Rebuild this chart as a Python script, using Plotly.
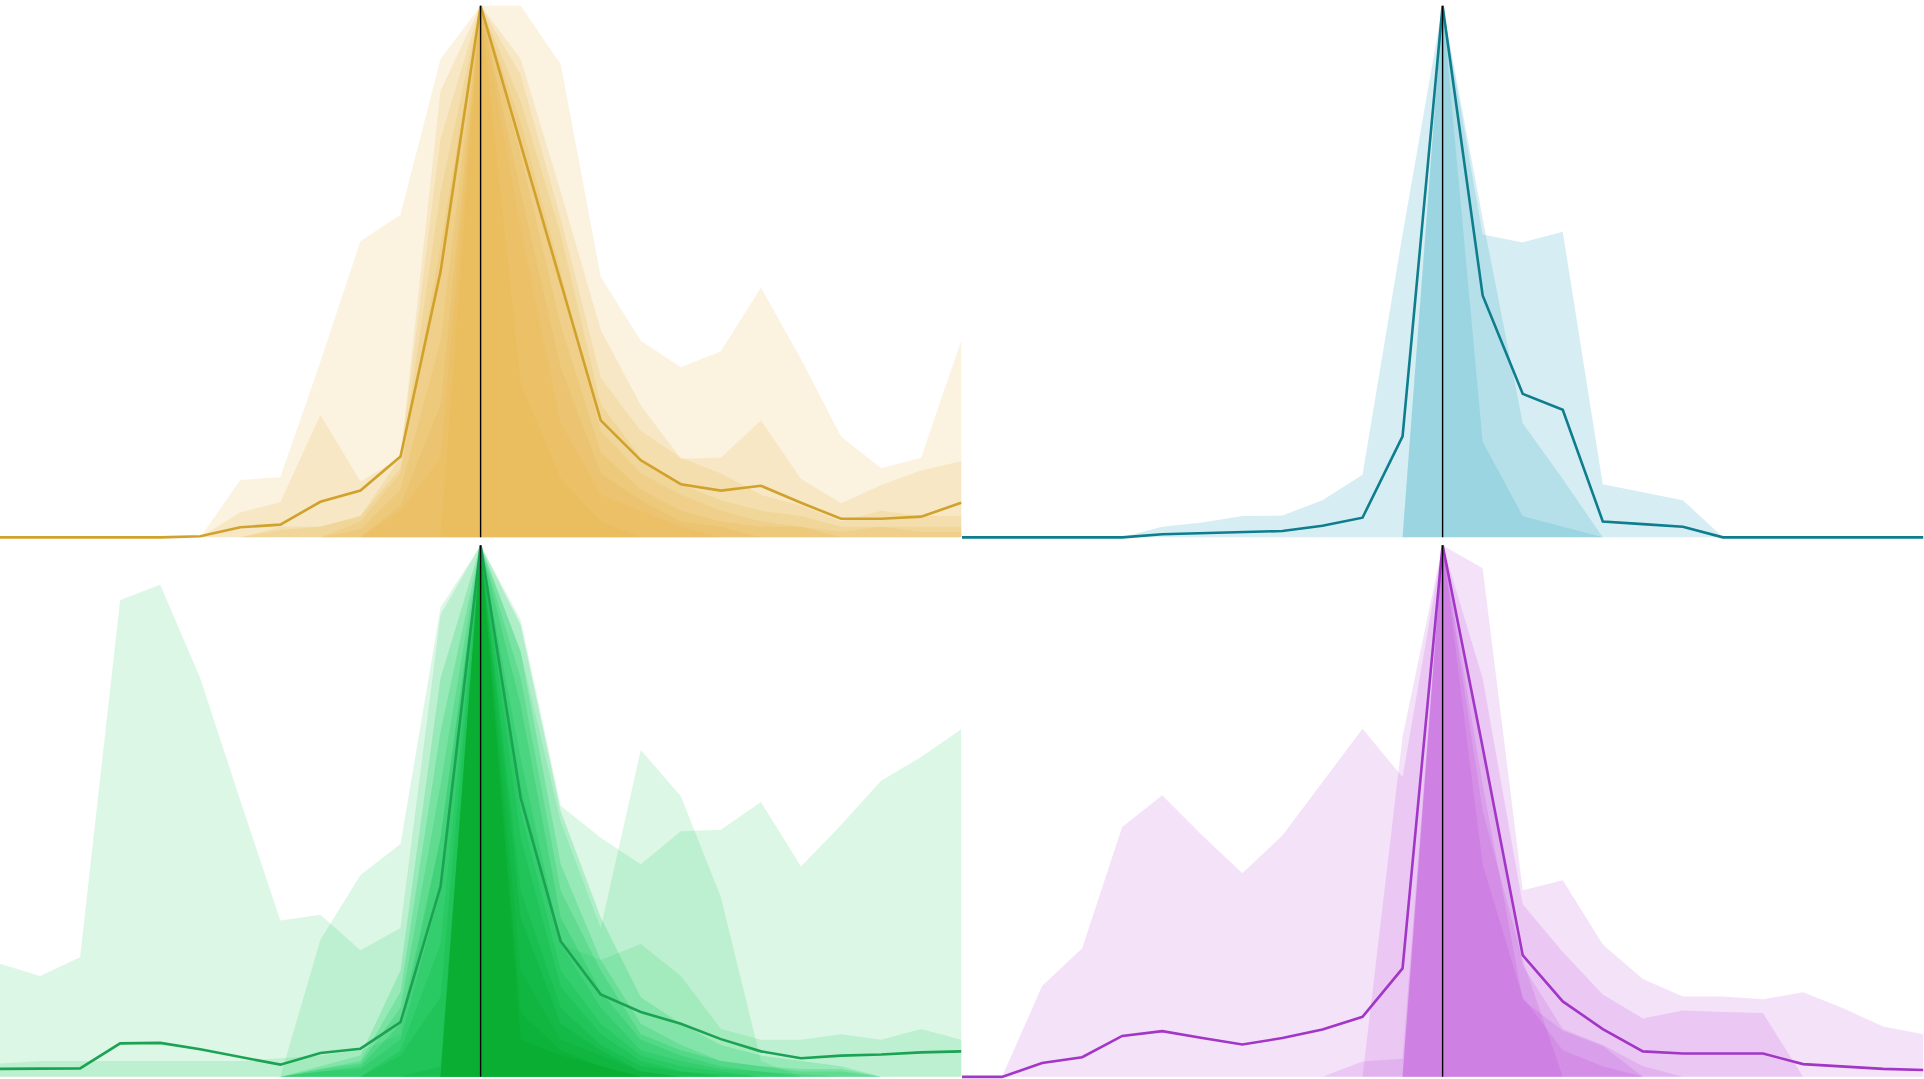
import plotly.graph_objects as go
from plotly.subplots import make_subplots

# ---------------- data ----------------
positions = list(range(25))   # 25 sample positions, peak at index 12
peak_index = 12

# Gold panel (top-left)
gold_profiles = [
    [0, 0, 0, 0, 0, 0, 0.108, 0.113, 0.33, 0.557, 0.607, 0.90, 1.0, 1.0, 0.89, 0.49, 0.37, 0.32, 0.35, 0.47, 0.335, 0.19, 0.13, 0.15, 0.37],
    [0, 0, 0, 0, 0, 0, 0.047, 0.066, 0.23, 0.105, 0.15, 0.84, 1.0, 0.90, 0.65, 0.39, 0.248, 0.148, 0.15, 0.22, 0.11, 0.064, 0.098, 0.126, 0.143],
    [0, 0, 0, 0, 0, 0, 0, 0.02, 0.02, 0.04, 0.15, 0.75, 1.0, 0.87, 0.60, 0.30, 0.20, 0.15, 0.12, 0.08, 0.06, 0.03, 0.05, 0.04, 0.04],
    [0, 0, 0, 0, 0, 0, 0, 0.014, 0.02, 0.04, 0.13, 0.65, 1.0, 0.82, 0.57, 0.25, 0.15, 0.10, 0.07, 0.05, 0.04, 0.02, 0.02, 0.02, 0.02],
    [0, 0, 0, 0, 0, 0, 0, 0, 0, 0.03, 0.12, 0.55, 1.0, 0.78, 0.50, 0.20, 0.12, 0.08, 0.05, 0.03, 0.02, 0.01, 0.02, 0.01, 0.01],
    [0, 0, 0, 0, 0, 0, 0, 0, 0, 0.015, 0.09, 0.37, 1.0, 0.72, 0.40, 0.16, 0.09, 0.05, 0.03, 0.02, 0.02, 0, 0, 0, 0],
    [0, 0, 0, 0, 0, 0, 0, 0, 0, 0, 0.06, 0.25, 1.0, 0.65, 0.32, 0.12, 0.07, 0.03, 0.02, 0, 0, 0, 0, 0, 0],
    [0, 0, 0, 0, 0, 0, 0, 0, 0, 0, 0.05, 0.15, 1.0, 0.58, 0.215, 0.08, 0.05, 0.02, 0, 0, 0, 0, 0, 0, 0],
    [0, 0, 0, 0, 0, 0, 0, 0, 0, 0, 0, 0, 1.0, 0.29, 0.11, 0.03, 0, 0, 0, 0, 0, 0, 0, 0, 0],
]
gold_mean = [0, 0, 0, 0, 0, 0.002, 0.019, 0.024, 0.067, 0.088, 0.152, 0.50, 1.0, 0.74, 0.48, 0.22, 0.145, 0.10, 0.088, 0.097, 0.065, 0.035, 0.035, 0.039, 0.065]

# Teal panel (top-right)
teal_profiles = [
    [0, 0, 0, 0, 0, 0.02, 0.028, 0.04, 0.041, 0.07, 0.118, 0.57, 1.0, 0.57, 0.555, 0.575, 0.10, 0.085, 0.07, 0, 0, 0, 0, 0, 0],
    [0, 0, 0, 0, 0, 0, 0, 0, 0, 0, 0, 0, 1.0, 0.60, 0.215, 0.11, 0, 0, 0, 0, 0, 0, 0, 0, 0],
    [0, 0, 0, 0, 0, 0, 0, 0, 0, 0, 0, 0, 1.0, 0.18, 0.04, 0.02, 0, 0, 0, 0, 0, 0, 0, 0, 0],
]
teal_mean = [0, 0, 0, 0, 0, 0.006, 0.008, 0.011, 0.012, 0.022, 0.037, 0.19, 1.0, 0.455, 0.27, 0.24, 0.03, 0.025, 0.02, 0, 0, 0, 0, 0, 0]

# Green panel (bottom-left)
green_wide_profiles = [
    [0.213, 0.19, 0.225, 0.897, 0.926, 0.75, 0.52, 0.294, 0.305, 0.238, 0.28, 0.87, 1.0, 0.86, 0.51, 0.45, 0.40, 0.462, 0.465, 0.517, 0.396, 0.474, 0.557, 0.602, 0.654],
    [0, 0, 0, 0, 0, 0, 0, 0, 0.258, 0.38, 0.438, 0.883, 1.0, 0.80, 0.48, 0.28, 0.615, 0.528, 0.338, 0.03, 0, 0, 0, 0, 0],
    [0.025, 0.03, 0.03, 0.03, 0.03, 0.03, 0.03, 0.035, 0.04, 0.05, 0.08, 0.45, 1.0, 0.55, 0.25, 0.22, 0.25, 0.19, 0.09, 0.07, 0.07, 0.08, 0.07, 0.09, 0.07],
]
green_narrow_profiles = [
    [0, 0, 0, 0, 0, 0, 0, 0, 0.02, 0.04, 0.20, 0.75, 1.0, 0.85, 0.50, 0.30, 0.15, 0.10, 0.06, 0.04, 0.03, 0.02, 0, 0, 0],
    [0, 0, 0, 0, 0, 0, 0, 0, 0.015, 0.03, 0.16, 0.65, 1.0, 0.80, 0.40, 0.22, 0.10, 0.06, 0.03, 0.02, 0.015, 0.015, 0, 0, 0],
    [0, 0, 0, 0, 0, 0, 0, 0, 0.015, 0.025, 0.13, 0.55, 1.0, 0.75, 0.35, 0.20, 0.08, 0.05, 0.03, 0.02, 0.01, 0.01, 0, 0, 0],
    [0, 0, 0, 0, 0, 0, 0, 0, 0.01, 0.02, 0.10, 0.45, 1.0, 0.70, 0.30, 0.16, 0.07, 0.04, 0.02, 0.01, 0.005, 0, 0, 0, 0],
    [0, 0, 0, 0, 0, 0, 0, 0, 0.01, 0.015, 0.07, 0.35, 1.0, 0.60, 0.25, 0.13, 0.05, 0.03, 0.015, 0.01, 0, 0, 0, 0, 0],
    [0, 0, 0, 0, 0, 0, 0, 0, 0, 0, 0.05, 0.25, 1.0, 0.50, 0.20, 0.10, 0.04, 0.02, 0.01, 0, 0, 0, 0, 0, 0],
    [0, 0, 0, 0, 0, 0, 0, 0, 0, 0, 0.04, 0.15, 1.0, 0.45, 0.17, 0.08, 0.03, 0.01, 0.005, 0, 0, 0, 0, 0, 0],
    [0, 0, 0, 0, 0, 0, 0, 0, 0, 0, 0, 0.02, 1.0, 0.35, 0.13, 0.06, 0.02, 0.01, 0, 0, 0, 0, 0, 0, 0],
    [0, 0, 0, 0, 0, 0, 0, 0, 0, 0, 0, 0, 1.0, 0.30, 0.10, 0.05, 0.01, 0, 0, 0, 0, 0, 0, 0, 0],
    [0, 0, 0, 0, 0, 0, 0, 0, 0, 0, 0, 0, 1.0, 0.20, 0.07, 0.04, 0.01, 0, 0, 0, 0, 0, 0, 0, 0],
    [0, 0, 0, 0, 0, 0, 0, 0, 0, 0, 0, 0, 1.0, 0.12, 0.05, 0.02, 0, 0, 0, 0, 0, 0, 0, 0, 0],
    [0, 0, 0, 0, 0, 0, 0, 0, 0, 0, 0, 0, 1.0, 0.07, 0.04, 0.02, 0, 0, 0, 0, 0, 0, 0, 0, 0],
]
green_mean = [0.015, 0.015, 0.016, 0.063, 0.064, 0.052, 0.037, 0.023, 0.045, 0.053, 0.103, 0.358, 1.0, 0.525, 0.255, 0.155, 0.122, 0.10, 0.071, 0.048, 0.035, 0.04, 0.042, 0.046, 0.048]

# Purple panel (bottom-right)
purple_profiles = [
    [0, 0, 0.171, 0.242, 0.47, 0.53, 0.454, 0.383, 0.454, 0.554, 0.655, 0.564, 1.0, 0.957, 0.351, 0.37, 0.249, 0.184, 0.151, 0.151, 0.146, 0.159, 0.129, 0.095, 0.08],
    [0, 0, 0, 0, 0, 0, 0, 0, 0, 0, 0, 0.64, 1.0, 0.75, 0.325, 0.235, 0.155, 0.11, 0.125, 0.122, 0.12, 0, 0, 0, 0],
    [0, 0, 0, 0, 0, 0, 0, 0, 0, 0, 0.029, 0.034, 1.0, 0.62, 0.21, 0.09, 0.06, 0.02, 0, 0, 0, 0, 0, 0, 0],
    [0, 0, 0, 0, 0, 0, 0, 0, 0, 0, 0, 0, 1.0, 0.55, 0.145, 0.087, 0.058, 0, 0, 0, 0, 0, 0, 0, 0],
    [0, 0, 0, 0, 0, 0, 0, 0, 0, 0, 0, 0, 1.0, 0.40, 0.15, 0.05, 0.02, 0, 0, 0, 0, 0, 0, 0, 0],
    [0, 0, 0, 0, 0, 0, 0, 0, 0, 0, 0, 0, 1.0, 0.50, 0.22, 0, 0, 0, 0, 0, 0, 0, 0, 0, 0],
]
purple_mean = [0, 0, 0.026, 0.037, 0.077, 0.086, 0.073, 0.061, 0.073, 0.089, 0.113, 0.204, 1.0, 0.62, 0.229, 0.142, 0.09, 0.048, 0.044, 0.044, 0.044, 0.024, 0.019, 0.015, 0.013]

# ---------------- figure ----------------
fig = make_subplots(rows=2, cols=2, horizontal_spacing=0, vertical_spacing=0)


def add_fill(y, color, row, col):
    fig.add_trace(go.Scatter(x=positions, y=y, mode="lines", line=dict(width=0, color=color),
                             fill="tozeroy", fillcolor=color, hoverinfo="skip", showlegend=False),
                  row=row, col=col)


def add_mean(y, color, row, col):
    fig.add_trace(go.Scatter(x=positions, y=y, mode="lines", line=dict(width=2.6, color=color),
                             hoverinfo="skip", showlegend=False), row=row, col=col)
    fig.add_trace(go.Scatter(x=[peak_index, peak_index], y=[0, 1], mode="lines",
                             line=dict(width=1.4, color="black"), hoverinfo="skip", showlegend=False),
                  row=row, col=col)


for p in gold_profiles:
    add_fill(p, "rgba(228,175,55,0.16)", 1, 1)
add_mean(gold_mean, "#D1A22B", 1, 1)

for p in teal_profiles:
    add_fill(p, "rgba(50,170,195,0.2)", 1, 2)
add_mean(teal_mean, "#0E7D8D", 1, 2)

for p in green_wide_profiles:
    add_fill(p, "rgba(0,200,70,0.137)", 2, 1)
n = len(green_narrow_profiles)
for i, p in enumerate(green_narrow_profiles):
    t = i / (n - 1)
    g = int(205 - 45 * t)
    b = int(85 - 60 * t)
    add_fill(p, f"rgba(0,{g},{b},0.2)", 2, 1)
add_mean(green_mean, "#1BA353", 2, 1)

for p in purple_profiles:
    add_fill(p, "rgba(175,40,212,0.135)", 2, 2)
add_mean(purple_mean, "#A236C6", 2, 2)

fig.update_xaxes(visible=False, range=[0, 24.02], fixedrange=True)
fig.update_yaxes(visible=False, range=[-0.004, 1.011], fixedrange=True)
fig.update_layout(width=1924, height=1079, margin=dict(l=0, r=0, t=0, b=0),
                  paper_bgcolor="white", plot_bgcolor="white", showlegend=False)

fig.write_html("out.html", config={"displayModeBar": False},
               post_script="document.body.style.margin='0';document.body.style.overflow='hidden';")
